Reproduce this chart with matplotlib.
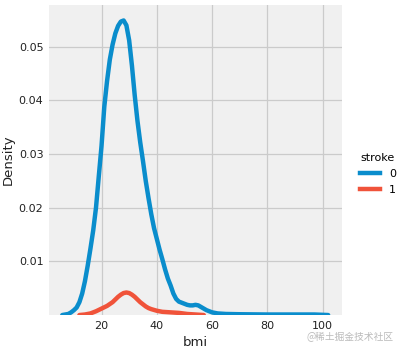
import matplotlib
matplotlib.use("Agg")
import matplotlib.pyplot as plt
from matplotlib.lines import Line2D

# KDE curves of bmi by stroke
bmi_0 = [5.8, 8, 9, 10, 11, 12, 13, 14, 15, 16, 17, 18, 19, 20, 21, 22, 23, 24,
         25, 26, 27, 28, 29, 30, 31, 32, 33, 34, 35, 36, 37, 38, 39, 40, 41, 42,
         43, 44, 45, 46, 47, 48, 49, 50, 51, 52, 53, 54, 55, 56, 57, 58, 59, 60,
         62, 65, 70, 80, 90, 97, 102]
dens_0 = [0.0, 0.0002, 0.0005, 0.0009, 0.0014, 0.0024, 0.0040, 0.0063, 0.0092,
          0.0124, 0.0158, 0.0200, 0.0258, 0.0315, 0.0388, 0.0436, 0.0476, 0.0504,
          0.0525, 0.0539, 0.0547, 0.0549, 0.0540, 0.0512, 0.0465, 0.0410, 0.0362,
          0.0322, 0.0287, 0.0250, 0.0218, 0.0188, 0.0162, 0.0142, 0.0122, 0.0104,
          0.0085, 0.0068, 0.0055, 0.0040, 0.0030, 0.0025, 0.0023, 0.0021, 0.0019,
          0.0018, 0.0018, 0.0019, 0.0018, 0.0015, 0.0012, 0.0009, 0.0007, 0.0005,
          0.0003, 0.0002, 0.00015, 0.0001, 0.0001, 0.0001, 0.0]

bmi_1 = [12, 14, 16, 18, 20, 22, 24, 25, 26, 27, 28, 29, 30, 31, 32, 33, 34, 35,
         36, 37, 38, 40, 42, 45, 48, 51, 54, 57]
dens_1 = [0.0, 0.0001, 0.0003, 0.0007, 0.0012, 0.0017, 0.0024, 0.0029, 0.0034,
          0.0038, 0.0041, 0.0042, 0.0041, 0.0038, 0.0034, 0.0029, 0.0024, 0.0020,
          0.0016, 0.0013, 0.0011, 0.0008, 0.0006, 0.0005, 0.0004, 0.0002, 0.0001,
          0.0]

stroke_labels = ["0", "1"]
colors = ["#0a8dcc", "#f0533a"]
x_ticks = [20, 40, 60, 80, 100]
y_ticks = [0.01, 0.02, 0.03, 0.04, 0.05]

fig = plt.figure(figsize=(4.0, 3.52), dpi=100)
fig.patch.set_facecolor("white")
ax = fig.add_axes([0.1225, 0.105, 0.7325, 0.881])
ax.set_facecolor("#f0f0f0")

ax.plot(bmi_0, dens_0, color=colors[0], lw=3.2, solid_capstyle="round", zorder=3)
ax.plot(bmi_1, dens_1, color=colors[1], lw=3.2, solid_capstyle="round", zorder=3)

ax.set_xlim(1.0, 107.0)
ax.set_ylim(0, 0.0578)
ax.set_xticks(x_ticks)
ax.set_yticks(y_ticks)
ax.set_yticklabels([f"{v:.2f}" for v in y_ticks])
ax.grid(True, color="#cbcbcb", lw=0.9)
ax.set_axisbelow(True)
for s in ax.spines.values():
    s.set_visible(False)
ax.tick_params(length=0, labelsize=8, pad=4, colors="#222222")

ax.set_xlabel("bmi", fontsize=9.5, labelpad=4, color="#222222")
ax.set_ylabel("Density", fontsize=9.5, labelpad=3, color="#222222")

handles = [Line2D([], [], color=c, lw=3.2) for c in colors]
leg = fig.legend(handles, stroke_labels, title="stroke", loc="center left",
                 bbox_to_anchor=(0.875, 0.505), frameon=False, fontsize=8,
                 title_fontsize=8, handlelength=1.8, handletextpad=0.8,
                 labelspacing=0.55)

fig.text(0.985, 0.043, "@稀土掘金技术社区", ha="right", va="center", fontsize=7,
         color="#bbbbbb", family=["Noto Sans CJK SC", "DejaVu Sans"])

fig.savefig("out.png", dpi=100)
